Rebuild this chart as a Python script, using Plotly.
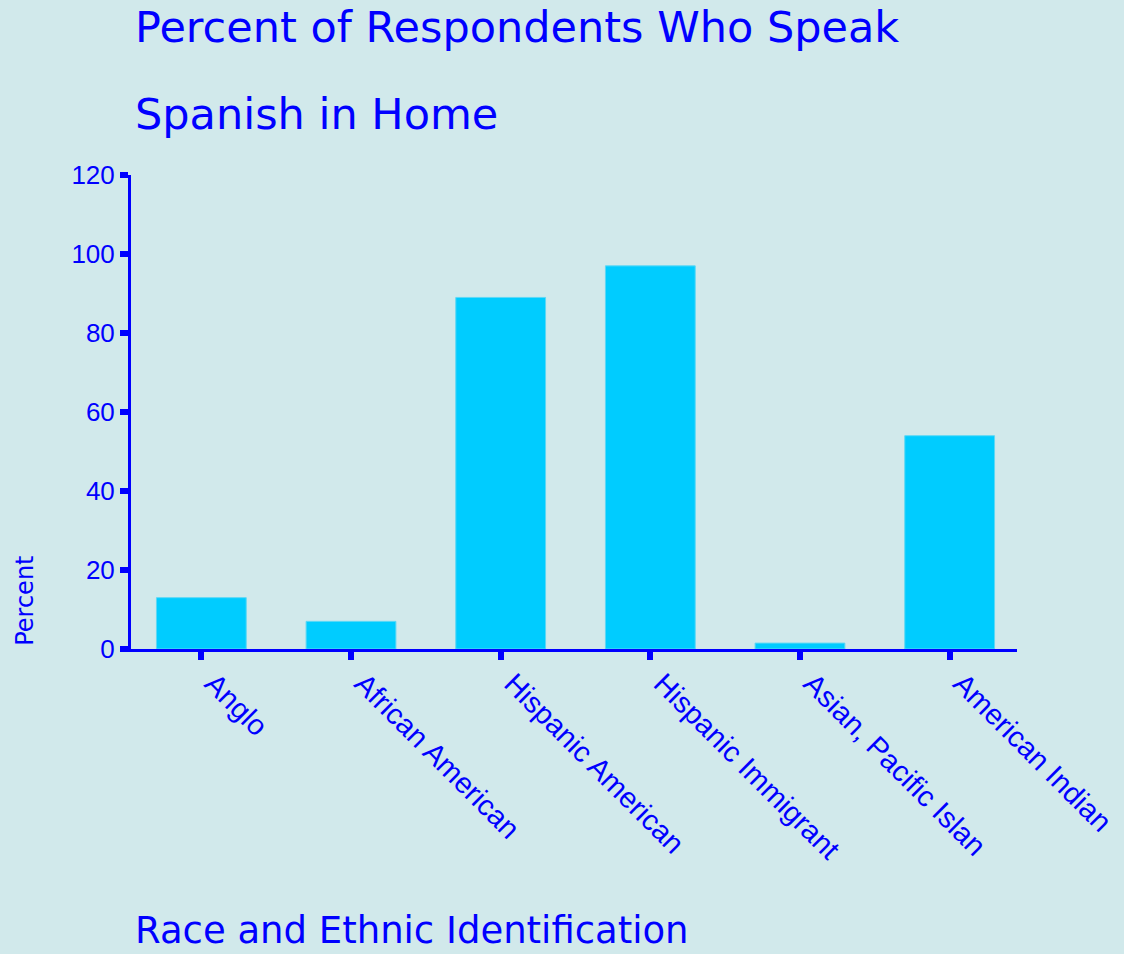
import plotly.graph_objects as go

# Survey results: share of respondents speaking Spanish at home
groups = ["Anglo", "African American", "Hispanic American",
          "Hispanic Immigrant", "Asian, Pacific Islan", "American Indian"]
percent = [13, 7, 89, 97, 1.5, 54]

y_ticks = [0, 20, 40, 60, 80, 100, 120]

title_lines = ["Percent of Respondents Who Speak", "Spanish in Home"]
x_title = "Race and Ethnic Identification"
y_title = "Percent"

BG = "#D1E9EB"
BLUE = "#0000FF"
BAR = "#00CCFF"
FONT = "DejaVu Sans"

fig = go.Figure(
    go.Bar(
        x=groups,
        y=percent,
        width=0.6,
        marker=dict(color=BAR, line=dict(color="#5FD8F5", width=1)),
    )
)

fig.update_layout(
    width=1124,
    height=954,
    margin=dict(l=131, r=107, t=175, b=305),
    paper_bgcolor=BG,
    plot_bgcolor=BG,
    showlegend=False,
    font=dict(family=FONT, color=BLUE),
)

fig.update_xaxes(
    range=[-0.47, 5.45],
    automargin=False,
    showline=True, linecolor=BLUE, linewidth=3,
    ticks="outside", ticklen=8, tickwidth=6, tickcolor=BLUE,
    tickangle=45,
    ticklabelshift=12,
    ticklabelstandoff=-5,
    tickfont=dict(family="Liberation Sans", size=29, color=BLUE),
    showgrid=False, zeroline=False,
)

fig.update_yaxes(
    range=[0, 120],
    automargin=False,
    tickvals=y_ticks,
    ticktext=[str(v) for v in y_ticks],
    showline=True, linecolor=BLUE, linewidth=3,
    ticks="outside", ticklen=8, tickwidth=6, tickcolor=BLUE,
    tickfont=dict(family="Liberation Sans", size=26, color=BLUE),
    showgrid=False, zeroline=False,
)

# Two-line title, set as separate annotations for the wide line spacing
fig.add_annotation(text=title_lines[0], xref="paper", yref="paper",
                   x=0.002, y=1.312, xanchor="left", yanchor="middle",
                   showarrow=False, font=dict(family=FONT, size=43, color=BLUE))
fig.add_annotation(text=title_lines[1], xref="paper", yref="paper",
                   x=0.002, y=1.128, xanchor="left", yanchor="middle",
                   showarrow=False, font=dict(family=FONT, size=43, color=BLUE))

# Axis titles
fig.add_annotation(text=x_title, xref="paper", yref="paper",
                   x=0.002, y=-0.6435, xanchor="left", yanchor="bottom",
                   showarrow=False, font=dict(family=FONT, size=37, color=BLUE))
fig.add_annotation(text=y_title, xref="paper", yref="paper",
                   x=-0.12, y=0.101, xanchor="center", yanchor="middle",
                   textangle=-90, showarrow=False,
                   font=dict(family=FONT, size=24, color=BLUE))

fig.write_html("out.html")
